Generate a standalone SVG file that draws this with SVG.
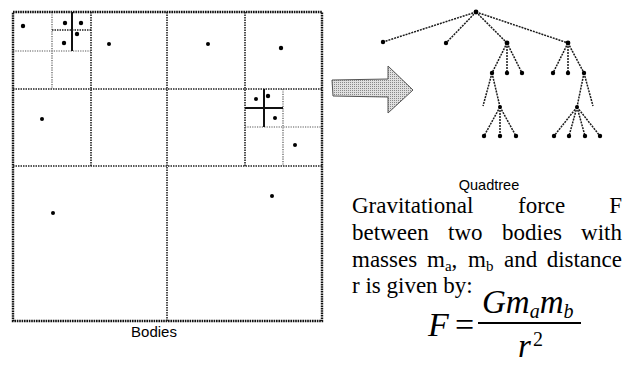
<svg xmlns="http://www.w3.org/2000/svg" width="634" height="367" viewBox="0 0 634 367">
<style>
.border{fill:none;stroke:#111;stroke-width:2.4;stroke-dasharray:1.6 0.8}
.grid{fill:none;stroke:#222;stroke-width:1.6;stroke-dasharray:1.5 1}
.sub{fill:none;stroke:#555;stroke-width:1.2;stroke-dasharray:1.2 1.2}
.solid{fill:none;stroke:#111;stroke-width:2}
.body{fill:#000}
.edge{fill:none;stroke:#1a1a1a;stroke-width:1.5;stroke-dasharray:2 1}
.node{fill:#000}
.sans{font-family:"Liberation Sans",Arial,sans-serif;fill:#000}
.serif{font-family:"Liberation Serif","Times New Roman",serif;fill:#000}
.it{font-style:italic}
</style>
<defs>
<pattern id="dots" width="2" height="2" patternUnits="userSpaceOnUse">
<rect width="2" height="2" fill="#e0e0e0"/>
<rect width="1" height="1" fill="#888"/>
</pattern>
</defs>
<rect width="634" height="367" fill="#fff"/>

<g id="bodies">
<line class="grid" x1="13" y1="89" x2="322" y2="89"/>
<line class="grid" x1="13" y1="166" x2="322" y2="166"/>
<line class="grid" x1="91" y1="12" x2="91" y2="166"/>
<line class="grid" x1="167" y1="12" x2="167" y2="321"/>
<line class="grid" x1="245" y1="12" x2="245" y2="166"/>
<line class="sub" x1="52" y1="12" x2="52" y2="89"/>
<line class="sub" x1="13" y1="51" x2="91" y2="51"/>
<line class="solid" x1="72" y1="12" x2="72" y2="51"/>
<line class="grid" x1="52" y1="30" x2="91" y2="30"/>
<line class="sub" x1="283" y1="89" x2="283" y2="166"/>
<line class="sub" x1="245" y1="127" x2="322" y2="127"/>
<line class="solid" x1="264" y1="89" x2="264" y2="127"/>
<line class="solid" x1="245" y1="108" x2="283" y2="108"/>
<rect class="border" x="13" y="12" width="309" height="309"/>
<circle class="body" cx="23" cy="26" r="2.2"/>
<circle class="body" cx="65" cy="23" r="2.2"/>
<circle class="body" cx="81" cy="23" r="2.2"/>
<circle class="body" cx="77" cy="34" r="2.2"/>
<circle class="body" cx="64" cy="43" r="2.2"/>
<circle class="body" cx="109" cy="44" r="2"/>
<circle class="body" cx="208" cy="44" r="2"/>
<circle class="body" cx="281" cy="48" r="2.2"/>
<circle class="body" cx="42" cy="119" r="2"/>
<circle class="body" cx="256" cy="99" r="2"/>
<circle class="body" cx="268" cy="96" r="2.2"/>
<circle class="body" cx="275" cy="118" r="2"/>
<circle class="body" cx="295" cy="145" r="2"/>
<circle class="body" cx="53" cy="213" r="2"/>
<circle class="body" cx="272" cy="196" r="2"/>
<text class="sans" x="154" y="337" font-size="15" text-anchor="middle">Bodies</text>
</g>

<g id="arrow">
<polygon points="332,80 388,79 388,66 413,90 388,113 388,97 333,96" fill="url(#dots)" stroke="#555" stroke-width="1"/>
</g>

<g id="connectors">
<line class="edge" x1="476" y1="12" x2="383" y2="42"/>
<line class="edge" x1="476" y1="12" x2="446" y2="43"/>
<line class="edge" x1="476" y1="12" x2="507" y2="43"/>
<line class="edge" x1="476" y1="12" x2="568" y2="43"/>
<line class="edge" x1="507" y1="43" x2="492" y2="73"/>
<line class="edge" x1="507" y1="43" x2="507" y2="73"/>
<line class="edge" x1="507" y1="43" x2="522" y2="73"/>
<line class="edge" x1="568" y1="43" x2="553" y2="73"/>
<line class="edge" x1="568" y1="43" x2="568" y2="73"/>
<line class="edge" x1="568" y1="43" x2="584" y2="73"/>
<line class="edge" x1="492" y1="73" x2="483" y2="106"/>
<line class="edge" x1="492" y1="73" x2="500" y2="107"/>
<line class="edge" x1="584" y1="73" x2="577" y2="107"/>
<line class="edge" x1="584" y1="73" x2="593" y2="106"/>
<line class="edge" x1="500" y1="107" x2="484" y2="136"/>
<line class="edge" x1="500" y1="107" x2="500" y2="136"/>
<line class="edge" x1="500" y1="107" x2="516" y2="136"/>
<line class="edge" x1="577" y1="107" x2="554" y2="136"/>
<line class="edge" x1="577" y1="107" x2="569" y2="136"/>
<line class="edge" x1="577" y1="107" x2="585" y2="136"/>
<line class="edge" x1="577" y1="107" x2="600" y2="136"/>
</g>

<g id="quadtree">
<circle class="node" cx="476" cy="12" r="2.4"/>
<circle class="node" cx="383" cy="42" r="2.2"/>
<circle class="node" cx="446" cy="43" r="2.2"/>
<circle class="node" cx="507" cy="43" r="2.4"/>
<circle class="node" cx="568" cy="43" r="2.4"/>
<circle class="node" cx="492" cy="73" r="2.2"/>
<circle class="node" cx="507" cy="73" r="2.2"/>
<circle class="node" cx="522" cy="73" r="2.2"/>
<circle class="node" cx="553" cy="73" r="2.2"/>
<circle class="node" cx="568" cy="73" r="2.2"/>
<circle class="node" cx="584" cy="73" r="2.2"/>
<circle class="node" cx="500" cy="107" r="2"/>
<circle class="node" cx="577" cy="107" r="2"/>
<circle class="node" cx="484" cy="136" r="2.2"/>
<circle class="node" cx="500" cy="136" r="2.2"/>
<circle class="node" cx="516" cy="136" r="2.2"/>
<circle class="node" cx="554" cy="136" r="2.2"/>
<circle class="node" cx="569" cy="136" r="2.2"/>
<circle class="node" cx="585" cy="136" r="2.2"/>
<circle class="node" cx="600" cy="136" r="2.2"/>
<text class="sans" x="489" y="190" font-size="14.5" text-anchor="middle">Quadtree</text>
</g>

<g id="description" class="serif" font-size="23">
<text x="352" y="213">Gravitational</text>
<text x="518" y="213">force</text>
<text x="622" y="213" text-anchor="end">F</text>
<text x="352" y="240">between</text>
<text x="448" y="240">two</text>
<text x="502" y="240">bodies</text>
<text x="622" y="240" text-anchor="end">with</text>
<text x="352" y="267">masses</text>
<text x="427" y="267">m<tspan font-size="15" dy="4">a</tspan><tspan dy="-4">,</tspan></text>
<text x="468" y="267">m<tspan font-size="15" dy="4">b</tspan></text>
<text x="504" y="267">and</text>
<text x="622" y="267" text-anchor="end">distance</text>
<text x="352" y="293">r is given by:</text>
</g>

<g id="formula" class="serif">
<text class="it" x="428" y="336" font-size="34">F</text>
<text x="455" y="336" font-size="34">=</text>
<line x1="478" y1="323" x2="581" y2="323" stroke="#000" stroke-width="2"/>
<text class="it" x="482" y="313" font-size="33">G<tspan>m</tspan><tspan font-size="20" dy="5">a</tspan><tspan dy="-5">m</tspan><tspan font-size="20" dy="5">b</tspan></text>
<text class="it" x="518" y="357" font-size="33">r</text>
<text x="533" y="346" font-size="20">2</text>
</g>
</svg>
